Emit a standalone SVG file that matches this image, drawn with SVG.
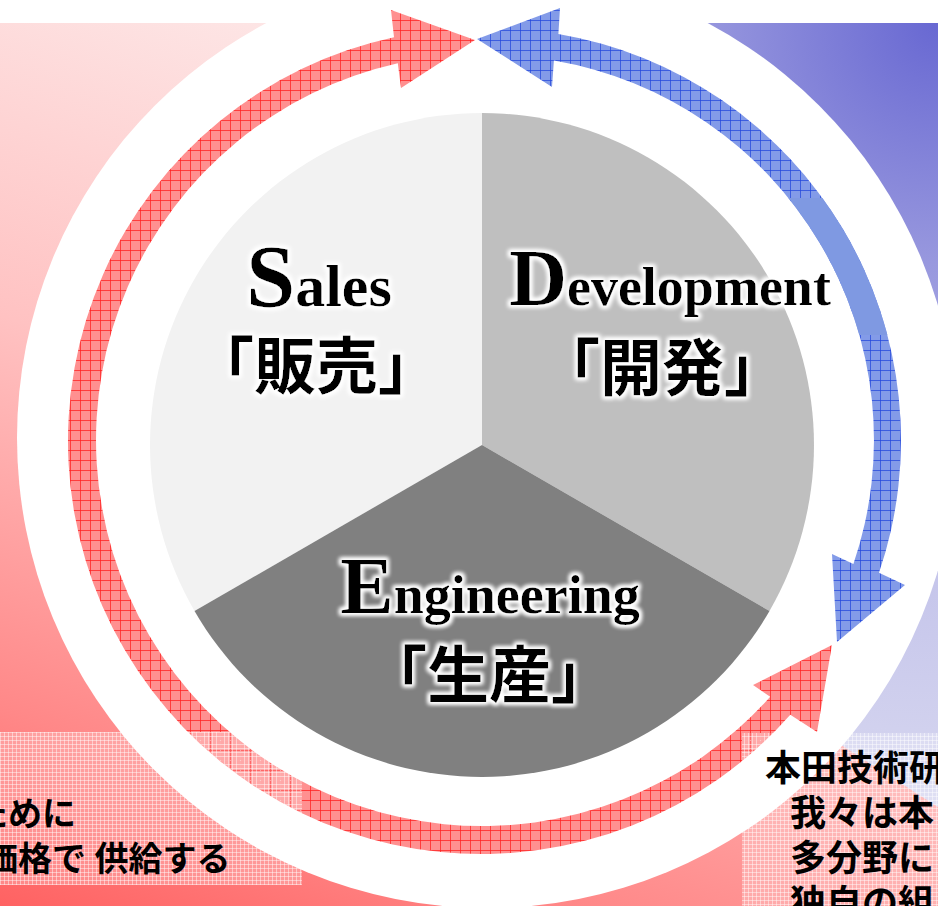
<svg xmlns="http://www.w3.org/2000/svg" width="938" height="906" viewBox="0 0 938 906">
<style>
.lat{font-family:"Liberation Serif","Times New Roman",serif;font-weight:bold;fill:#000}
.jp{font-family:"Liberation Serif","Noto Sans CJK JP",serif;font-weight:bold;fill:#000}
.box{font-family:"Liberation Serif","Noto Sans CJK JP",serif;font-weight:bold;fill:#000}
</style>
<defs>
<linearGradient id="pinkG" gradientUnits="userSpaceOnUse" x1="300" y1="23" x2="0" y2="906">
<stop offset="0" stop-color="#fde6e6"/><stop offset="0.4" stop-color="#ffc2c2"/><stop offset="0.8" stop-color="#ff8888"/><stop offset="1" stop-color="#ff6262"/>
</linearGradient>
<radialGradient id="blueG" gradientUnits="userSpaceOnUse" cx="938" cy="23" r="800">
<stop offset="0" stop-color="#6868d2"/><stop offset="0.3" stop-color="#9898de"/><stop offset="0.7" stop-color="#c6c6eb"/><stop offset="1" stop-color="#d8d8f0"/>
</radialGradient>
<pattern id="hr" width="10" height="10" patternUnits="userSpaceOnUse">
<rect width="10" height="10" fill="#ff9090"/><path d="M0 0.5H10M0.5 0V10" stroke="#ff2020" stroke-opacity="0.75" stroke-width="1"/>
</pattern>
<pattern id="hb" width="10" height="10" patternUnits="userSpaceOnUse">
<rect width="10" height="10" fill="#839be8"/><path d="M0 0.5H10M0.5 0V10" stroke="#2448dc" stroke-opacity="0.75" stroke-width="1"/>
</pattern>
<pattern id="tb" width="4" height="4" patternUnits="userSpaceOnUse">
<rect width="4" height="4" fill="#fff" fill-opacity="0.22"/><path d="M0 0.5H4M0.5 0V4" stroke="#fff" stroke-opacity="0.45"/>
</pattern>
<clipPath id="solidClip"><rect x="700" y="198" width="238" height="137"/></clipPath>
<filter id="glow" x="-10%" y="-20%" width="120%" height="140%">
<feMorphology in="SourceAlpha" operator="dilate" radius="1.5" result="d"/>
<feGaussianBlur in="d" stdDeviation="2" result="b"/>
<feFlood flood-color="#fff"/>
<feComposite in2="b" operator="in" result="g"/>
<feMerge><feMergeNode in="g"/><feMergeNode in="g"/><feMergeNode in="SourceGraphic"/></feMerge>
</filter>
</defs>
<g id="background">
<rect width="938" height="906" fill="#fff"/>
<rect x="0" y="23" width="938" height="883" fill="url(#pinkG)"/>
<path d="M560 23H938V807L838 743L700 600Z" fill="url(#blueG)"/>
<circle cx="487" cy="438" r="470" fill="#fff"/>
</g>
<g id="sales"><path d="M482 445L482 113A332 332 0 0 0 194.5 611Z" fill="#f2f2f2"/></g>
<g id="development"><path d="M482 445L482 113A332 332 0 0 1 769.5 611Z" fill="#bfbfbf"/></g>
<g id="engineering"><path d="M482 445L769.5 611A332 332 0 0 1 194.5 611Z" fill="#808080"/></g>
<g id="connectors">
<path id="redArrow" d="M790.3 714.7A413 413 0 1 1 394 37.3L391 10L475 40L401 88L397.8 63.3A386 386 0 1 0 770.2 696.8L753 685L832 645L817 732Z" fill="url(#hr)"/>
<path id="blueArrow" d="M553.9 60.5L552 87L477 39L560 8L558.4 33.9A412 412 0 0 1 879 572.8L905 585L837 642L832 554L853.4 564.1A385 385 0 0 0 553.9 60.5Z" fill="url(#hb)"/>
<path d="M558.4 33.9A412 412 0 0 1 879 572.8L853.4 564.1A385 385 0 0 0 553.9 60.5Z" fill="#7f99e2" clip-path="url(#solidClip)"/>
</g>
<g id="boxLeft">
<rect x="0" y="732" width="302" height="153" fill="url(#tb)"/>
<text class="box" font-size="34"><tspan x="-26" y="826">ために</tspan><tspan x="-16" y="871">価格で 供給する</tspan></text>
</g>
<g id="boxRight">
<rect x="742" y="733" width="196" height="173" fill="url(#tb)"/>
<text class="box" font-size="36"><tspan x="765" y="781">本田技術研</tspan><tspan x="790" y="826">我々は本</tspan><tspan x="790" y="871">多分野に</tspan><tspan x="790" y="916">独自の組</tspan></text>
</g>
<g id="labels" filter="url(#glow)">
<text class="lat" x="319" y="306" text-anchor="middle"><tspan font-size="88">S</tspan><tspan font-size="60">ales</tspan></text>
<text class="jp" x="316" y="389" font-size="62" text-anchor="middle">「販売」</text>
<text class="lat" x="670" y="305" text-anchor="middle"><tspan font-size="80">D</tspan><tspan font-size="54">evelopment</tspan></text>
<text class="jp" x="662" y="391" font-size="62" text-anchor="middle">「開発」</text>
<text class="lat" x="490" y="613" text-anchor="middle"><tspan font-size="80">E</tspan><tspan font-size="54">ngineering</tspan></text>
<text class="jp" x="489" y="698" font-size="62" text-anchor="middle">「生産」</text>
</g>
</svg>
